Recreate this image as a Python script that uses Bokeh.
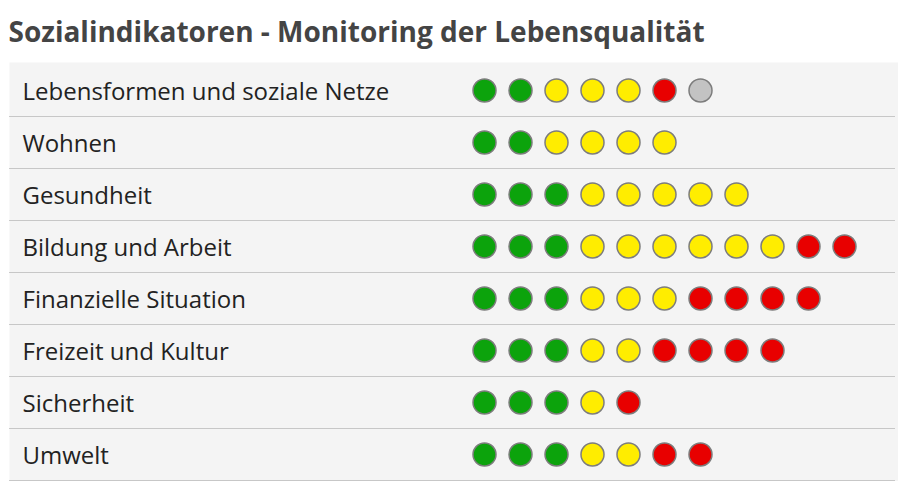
from bokeh.plotting import figure
from bokeh.models import Range1d, Label, ColumnDataSource
from bokeh.core.properties import value
from bokeh.embed import file_html
from bokeh.resources import INLINE

title_text = "Sozialindikatoren - Monitoring der Lebensqualität"
categories = [
    "Lebensformen und soziale Netze",
    "Wohnen",
    "Gesundheit",
    "Bildung und Arbeit",
    "Finanzielle Situation",
    "Freizeit und Kultur",
    "Sicherheit",
    "Umwelt",
]
# number of indicators per rating
green = [2, 2, 3, 3, 3, 3, 3, 3]
yellow = [3, 4, 5, 6, 3, 2, 1, 2]
red = [1, 0, 0, 2, 4, 4, 1, 2]
grey = [1, 0, 0, 0, 0, 0, 0, 0]

colors = {"green": "#0ca30c", "yellow": "#ffed00", "red": "#e80000", "grey": "#c3c3c3"}

W, H = 898, 481
DOT_SP = 36.0
ROW_SP = 52.0
X0 = 484.0
Y0 = 90.0

p = figure(width=W, height=H, output_backend="svg", toolbar_location=None,
           x_range=Range1d(-X0 / DOT_SP, (W - X0) / DOT_SP),
           y_range=Range1d((H - Y0) / ROW_SP, -Y0 / ROW_SP),
           min_border=0)
p.axis.visible = False
p.grid.visible = False
p.outline_line_color = None
p.background_fill_color = "white"
p.border_fill_color = "white"

# panel
px = lambda v: (v - X0) / DOT_SP
py = lambda v: (v - Y0) / ROW_SP
p.quad(left=px(9), right=px(W + 2), top=py(62), bottom=py(H + 2),
       fill_color="#f4f4f4", line_color=None)

# separators
n = len(categories)
p.segment(x0=[px(9)] * n, x1=[px(894)] * n,
          y0=[i + 0.5 for i in range(n)], y1=[i + 0.5 for i in range(n)],
          line_color="#9a9a9a", line_width=1, line_dash="1 1")

# labels
p.text(x=[px(22)] * n, y=list(range(n)), text=categories,
       text_font=value("Open Sans"), text_font_size="24px", text_color="#222222",
       text_baseline="middle", text_align="left")

# dots
xs, ys, fc = [], [], []
for r in range(n):
    seq = (["green"] * green[r] + ["yellow"] * yellow[r] +
           ["red"] * red[r] + ["grey"] * grey[r])
    for i, c in enumerate(seq):
        xs.append(i)
        ys.append(r)
        fc.append(colors[c])
src = ColumnDataSource(dict(x=xs, y=ys, c=fc))
p.scatter(x="x", y="y", source=src, size=23, fill_color="c",
          line_color="#7d7d7d", line_width=1.5)

p.add_layout(Label(x=8, y=H - 30, x_units="screen", y_units="screen",
                   text=title_text, text_font="Open Sans", text_font_size="28px",
                   text_font_style="bold", text_color="#444444",
                   text_baseline="middle"))

open("out.html", "w").write(file_html(p, INLINE))
